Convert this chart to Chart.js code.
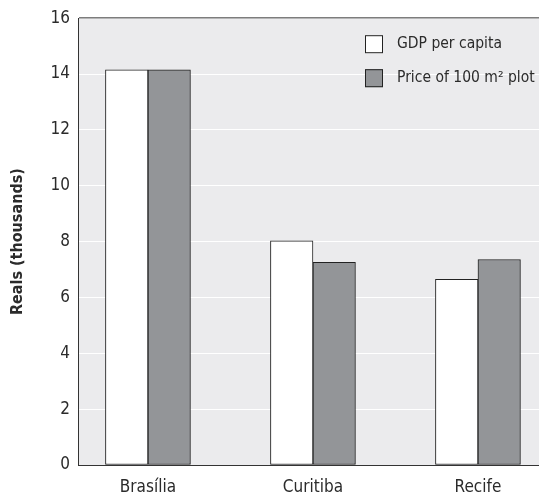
<!DOCTYPE html>
<html>
<head>
<meta charset="utf-8">
<script src="https://cdn.jsdelivr.net/npm/chart.js@4.4.0/dist/chart.umd.min.js"></script>
<style>
  html, body { margin: 0; padding: 0; background: #fff; overflow: hidden; }
  #wrap { width: 539px; height: 501px; }
</style>
</head>
<body>
<div id="wrap"><canvas id="graf"></canvas></div>
<script>
var cities = ['Brasília', 'Curitiba', 'Recife'];
var gdpPerCapita = [14.15, 8.03, 6.65];
var plotPrice = [14.15, 7.26, 7.36];
var yTicks = [0, 2, 4, 6, 8, 10, 12, 14, 16];

var fontName = "'DejaVu Sans Condensed', 'Liberation Sans Narrow', sans-serif";
var textColor = '#2b2b2b';

// grey panel behind the bars
var panelBg = {
    id: 'panelBg',
    beforeDraw: function(chart) {
        var a = chart.chartArea;
        var ctx = chart.ctx;
        ctx.save();
        ctx.fillStyle = '#ebebed';
        ctx.fillRect(a.left, a.top, a.right - a.left, a.bottom - a.top);
        ctx.restore();
    }
};

// legend boxes in the top right corner of the panel
var cornerLegend = {
    id: 'cornerLegend',
    afterDraw: function(chart) {
        var a = chart.chartArea;
        var ctx = chart.ctx;
        var x = a.right - 174;
        ctx.save();
        ctx.font = '15.5px ' + fontName;
        ctx.textBaseline = 'middle';
        chart.data.datasets.forEach(function(ds, i) {
            var y = a.top + 17 + i * 34;
            ctx.fillStyle = ds.backgroundColor;
            ctx.fillRect(x, y, 18, 18);
            ctx.strokeStyle = '#222';
            ctx.lineWidth = 1;
            ctx.strokeRect(x + 0.5, y + 0.5, 17, 17);
            ctx.fillStyle = textColor;
            ctx.fillText(ds.label, x + 32, y + 9);
        });
        ctx.restore();
    }
};

var graf = new Chart(document.getElementById('graf'), {
    type: 'bar',
    data: {
        labels: cities.map(function(c, i) { return i; }),
        datasets: [{
            label: 'GDP per capita',
            data: gdpPerCapita,
            backgroundColor: '#ffffff',
            borderColor: '#222222',
            borderWidth: 1,
            borderSkipped: false,
            barThickness: 42.5
        }, {
            label: 'Price of 100 m² plot',
            data: plotPrice,
            backgroundColor: '#939598',
            borderColor: '#222222',
            borderWidth: 1,
            borderSkipped: false,
            barThickness: 42.5
        }]
    },
    options: {
        responsive: true,
        maintainAspectRatio: false,
        animation: false,
        layout: { padding: { top: 16, right: 0, left: 0, bottom: 0 } },
        plugins: {
            legend: { display: false },
            tooltip: { enabled: false }
        },
        scales: {
            x: {
                type: 'linear',
                offset: false,
                min: -0.424,
                max: 2.37,
                afterBuildTicks: function(scale) {
                    scale.ticks = cities.map(function(c, i) { return { value: i }; });
                },
                afterFit: function(scale) { scale.height = 36; },
                grid: { display: false, drawTicks: false },
                border: { color: '#333', width: 1 },
                ticks: {
                    padding: 12,
                    maxRotation: 0,
                    autoSkip: false,
                    color: textColor,
                    font: { family: fontName, size: 17 },
                    callback: function(v) { return cities[v]; }
                }
            },
            y: {
                min: 0,
                max: 16,
                afterBuildTicks: function(scale) {
                    scale.ticks = yTicks.map(function(v) { return { value: v }; });
                },
                afterFit: function(scale) { scale.width = 78; },
                grid: {
                    drawTicks: false,
                    color: function(ctx) {
                        return ctx.tick && ctx.tick.value === 16 ? '#7d7d7d' : '#ffffff';
                    },
                    lineWidth: function(ctx) {
                        return ctx.tick && ctx.tick.value === 16 ? 1.5 : 1;
                    }
                },
                border: { color: '#333', width: 1 },
                ticks: {
                    padding: 8,
                    color: textColor,
                    font: { family: fontName, size: 17 }
                },
                title: {
                    display: true,
                    text: 'Reals (thousands)',
                    color: textColor,
                    padding: { top: 8, bottom: 0 },
                    font: { family: fontName, size: 16, weight: 'bold' }
                }
            }
        }
    },
    plugins: [panelBg, cornerLegend]
});
</script>
</body>
</html>
